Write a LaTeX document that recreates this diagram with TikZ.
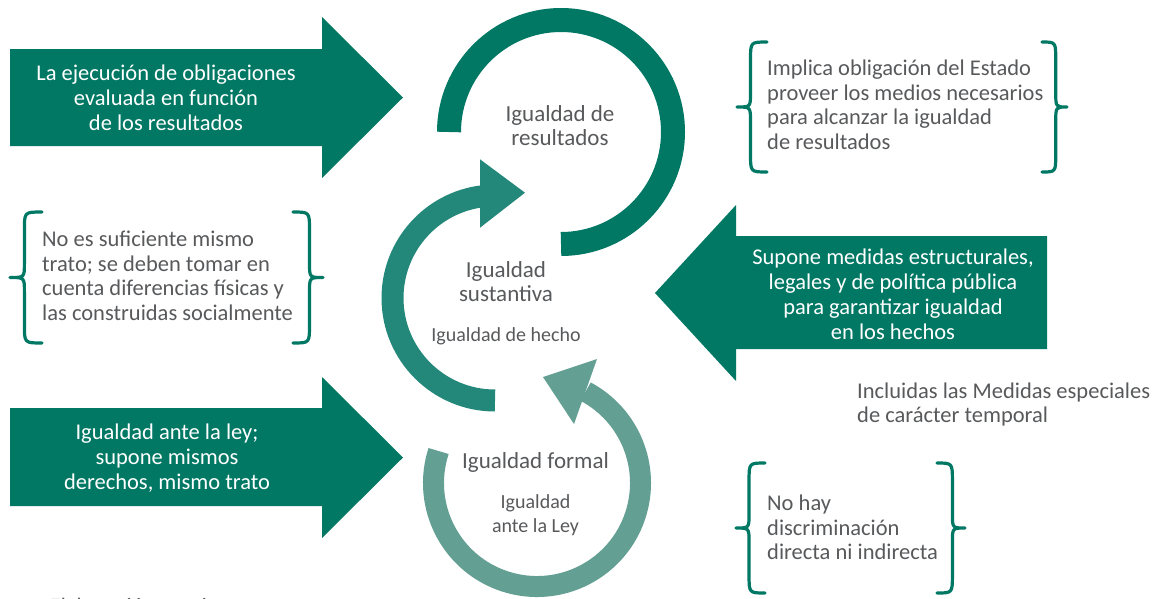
\documentclass[tikz,border=0pt]{standalone}
\usepackage{fontspec}
\setmainfont{Carlito}
\definecolor{dgreen}{RGB}{0,120,100}
\definecolor{mgreen}{RGB}{35,136,121}
\definecolor{lgreen}{RGB}{99,160,147}
\definecolor{tgrey}{RGB}{88,89,91}
\newcommand\mybrace[4]{%
 \pgfmathsetmacro\bsx{#1+0.45*(#2-#1)}%
 \pgfmathsetmacro\bmid{(#3+#4)/2}%
 \draw[bracestyle] (#2,#3) .. controls (\bsx,#3) .. (\bsx,#3+18) -- (\bsx,\bmid-14) .. controls (\bsx,\bmid) .. (#1,\bmid) .. controls (\bsx,\bmid) .. (\bsx,\bmid+14) -- (\bsx,#4-18) .. controls (\bsx,#4) .. (#2,#4);}
\begin{document}
\begin{tikzpicture}[x=1pt,y=-1pt,
 bigarrow/.style={fill=dgreen},
 wtext/.style={text=white,font=\fontsize{22.5}{25}\selectfont,align=center,inner sep=0pt},
 btext/.style={text=tgrey,font=\fontsize{22.5}{24.5}\selectfont,align=left,inner sep=0pt,anchor=west},
 glabel/.style={text=tgrey,font=\fontsize{23}{24}\selectfont,align=center,inner sep=0pt},
 gsmall/.style={text=tgrey,font=\fontsize{20}{24}\selectfont,align=center,inner sep=0pt},
 bracestyle/.style={draw=dgreen,line width=3.2pt,line cap=round,line join=round}]
\useasboundingbox (0,0) rectangle (1161,598);
\clip (0,0) rectangle (1161,598);
% big arrows
\fill[bigarrow] (10,49) -- (322,49) -- (322,17) -- (403,97.5) -- (322,178) -- (322,146) -- (10,146) -- cycle;
\fill[bigarrow] (10,408) -- (322,408) -- (322,377) -- (403,457.5) -- (322,538) -- (322,506) -- (10,506) -- cycle;
\fill[bigarrow] (1047,236) -- (736,236) -- (736,205) -- (655,293) -- (736,381) -- (736,349) -- (1047,349) -- cycle;
\node[wtext] (a1) at (166,98) {La ejecución de obligaciones\\evaluada en función\\de los resultados};
\node[wtext] (a3) at (167,458) {Igualdad ante la ley;\\supone mismos\\derechos, mismo trato};
\node[wtext] (a2) at (893,294) {Supone medidas estructurales,\\legales y de política pública\\para garantizar igualdad\\en los hechos};
% rings
\draw[dgreen,line width=24pt] (561,132) ++(180:112) arc[start angle=180,end angle=450,radius=112];
\draw[mgreen,line width=22pt] (495,298) ++(90:102.5) arc[start angle=90,end angle=263,radius=102.5];
\fill[mgreen] (480,159.3) -- (525,192.7) -- (480,227.7) -- cycle;
\draw[lgreen,line width=21pt] (537,483) ++(198:103.5) arc[start angle=198,end angle=-62,radius=103.5];
\fill[lgreen] (597,359) -- (543,377) -- (574,424) -- cycle;
% ring labels
\node[glabel] (res) at (560,125.5) {Igualdad de\\resultados};
\node[glabel] (sus) at (506,282) {Igualdad\\sustantiva};
\node[gsmall] (hec) at (506,336) {Igualdad de hecho};
\node[glabel] (for) at (535.5,462) {Igualdad formal};
\node[gsmall] (ley) at (535.5,515.5) {Igualdad\\ante la Ley};
% braces
\mybrace{737}{767}{42}{172}
\mybrace{1067}{1042}{42}{172}
\mybrace{10}{42}{212}{343}
\mybrace{323}{293}{212}{343}
\mybrace{736}{765}{463}{593}
\mybrace{965}{937}{463}{593}
\node[btext] (b1) at (767,105) {Implica obligación del Estado\\proveer los medios necesarios\\para alcanzar la igualdad\\de resultados};
\node[btext] (b2) at (42,276) {No es suficiente mismo\\trato; se deben tomar en\\cuenta diferencias físicas y\\las construidas socialmente};
\node[btext] (b3) at (767,527.5) {No hay\\discriminación\\directa ni indirecta};
\node[btext] (inc) at (857,404.5) {Incluidas las Medidas especiales\\de carácter temporal};
\node[text=tgrey,font=\fontsize{22}{24}\selectfont,inner sep=0pt,anchor=base west] (src) at (50,613) {Elaboración propia};
\end{tikzpicture}
\end{document}
